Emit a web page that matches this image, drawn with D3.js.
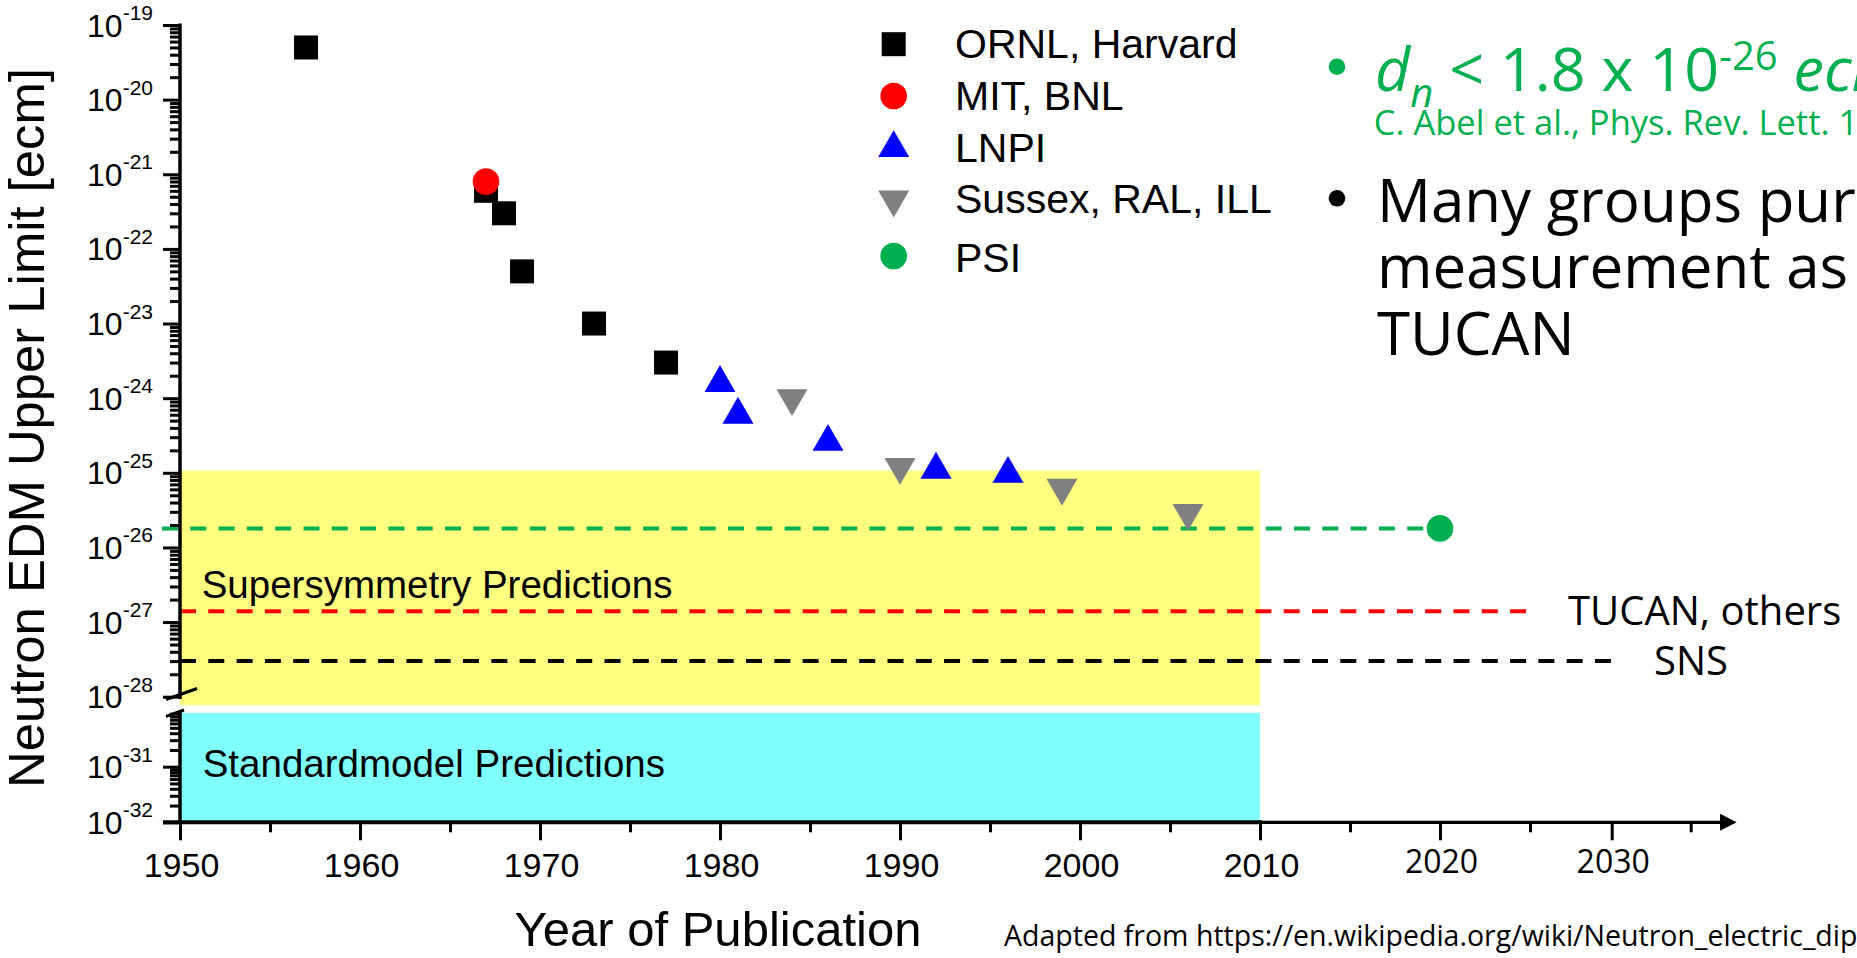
<!DOCTYPE html>
<html>
<head>
<meta charset="utf-8">
<script src="https://cdn.jsdelivr.net/npm/d3@7"></script>
<style>
  html, body { margin: 0; padding: 0; background: #fff; overflow: hidden; }
  svg { display: block; }
</style>
</head>
<body>
<svg id="chart" width="1857" height="958"></svg>
<script>
// ---- Neutron EDM upper limits by year of publication ----
const ornlYears  = [1957, 1967, 1968, 1969, 1973, 1977];
const ornlLimits = [5e-20, 6e-22, 3e-22, 5e-23, 1e-23, 3e-24];
const mitYears   = [1967];
const mitLimits  = [8e-22];
const lnpiYears  = [1980, 1981, 1986, 1992, 1996];
const lnpiLimits = [1.6e-24, 6e-25, 2.6e-25, 1.1e-25, 9.7e-26];
const illYears   = [1984, 1990, 1999, 2006];
const illLimits  = [1.0e-24, 1.2e-25, 6.3e-26, 2.9e-26];
const psiYears   = [2020];
const psiLimits  = [1.8e-26];

const seriesNames = ["ORNL, Harvard", "MIT, BNL", "LNPI", "Sussex, RAL, ILL", "PSI"];

// projected sensitivities, drawn as dashed lines
const projectionNames  = ["PSI", "TUCAN, others", "SNS"];
const projectionLimits = [1.8e-26, 1.4e-27, 3e-28];
const projectionYears  = [[1949, 2020], [1950, 2025], [1950, 2030]];

// theory prediction bands
const bandNames  = ["Supersymmetry Predictions", "Standardmodel Predictions"];
const bandLimits = [[7.7e-29, 1.07e-25], [1e-32, 9.3e-31]];
const bandYears  = [1950, 2010];

// axis ticks
const yUpperExponents = [-28, -27, -26, -25, -24, -23, -22, -21, -20, -19];
const yLowerExponents = [-32, -31];
const xMajorTicks = [1950, 1960, 1970, 1980, 1990, 2000, 2010, 2020, 2030];
const xMinorTicks = [1955, 1965, 1975, 1985, 1995, 2005, 2015, 2025, 2035];

// ---- styling ----
const ARIAL = "'Liberation Sans', Arial, sans-serif";
const SLIDE = "'Open Sans', 'Noto Sans', sans-serif";
const GREEN = "#00B050";
const colors = { ornl: "#000000", mit: "#FF0000", lnpi: "#0000FF", ill: "#808080", psi: GREEN };
const bandColors = ["#FFFF80", "#80FFFF"];
const projectionColors = [GREEN, "#FF0000", "#000000"];

const svg = d3.select("#chart");

// ---- scales: broken log axis (upper and lower segment) ----
const axisX = 180, axisY = 822.3;
const yUpper = d3.scaleLog().domain([1e-28, 1e-19]).range([696.7, 25]);
const yLower = d3.scaleLog().domain([1e-32, 1e-31]).range([axisY, 766.7]);
const y = v => (v >= 5e-29 ? yUpper(v) : yLower(v));
const x = d3.scaleLinear().domain([1950, 2025, 2030, 2035]).range([axisX, 1530, 1611.7, 1690.7]);

// ---- prediction bands ----
svg.append("g").selectAll("rect")
  .data(bandLimits)
  .join("rect")
  .attr("x", x(bandYears[0]))
  .attr("width", x(bandYears[1]) - x(bandYears[0]))
  .attr("y", d => y(d[1]))
  .attr("height", d => y(d[0]) - y(d[1]))
  .attr("fill", (d, i) => bandColors[i]);

const bandLabelPos = [[201.7, 598.3], [202.7, 776.7]];
svg.append("g").selectAll("text")
  .data(bandNames)
  .join("text")
  .attr("x", (d, i) => bandLabelPos[i][0])
  .attr("y", (d, i) => bandLabelPos[i][1])
  .attr("font-family", ARIAL)
  .attr("font-size", 38.5)
  .attr("fill", "#000")
  .text(d => d);

// ---- projected sensitivity lines ----
svg.append("g").selectAll("line")
  .data(projectionLimits)
  .join("line")
  .attr("x1", (d, i) => x(projectionYears[i][0]))
  .attr("x2", (d, i) => x(projectionYears[i][1]))
  .attr("y1", d => y(d))
  .attr("y2", d => y(d))
  .attr("stroke", (d, i) => projectionColors[i])
  .attr("stroke-width", 4)
  .attr("stroke-dasharray", "16,12.3");

const projLabelPos = [null, [1568, 625], [1654, 675]];
svg.append("g").selectAll("text")
  .data(projectionNames.slice(1))
  .join("text")
  .attr("x", (d, i) => projLabelPos[i + 1][0])
  .attr("y", (d, i) => projLabelPos[i + 1][1])
  .attr("font-family", SLIDE)
  .attr("font-size", 40)
  .attr("fill", "#000")
  .text(d => d);

// ---- axes ----
const tickColor = "#000";

// y axis: major and minor ticks on both segments
const upperMajors = yUpperExponents.map(e => Math.pow(10, e));
const lowerMajors = yLowerExponents.map(e => Math.pow(10, e));
const minorsFor = exps => exps.flatMap(e => d3.range(2, 10).map(k => k * Math.pow(10, e)));
const upperMinors = minorsFor(yUpperExponents.slice(0, -1));
const lowerMinors = minorsFor(yLowerExponents);

function styleAxis(g) {
  g.select(".domain").remove();
  g.selectAll("line").attr("stroke", tickColor).attr("stroke-width", 3);
}
svg.append("g").attr("transform", `translate(${axisX},0)`)
  .call(d3.axisLeft(yUpper).tickValues(upperMajors).tickSize(17).tickFormat(""))
  .call(styleAxis);
svg.append("g").attr("transform", `translate(${axisX},0)`)
  .call(d3.axisLeft(yUpper).tickValues(upperMinors).tickSize(10).tickFormat(""))
  .call(styleAxis);
svg.append("g").attr("transform", `translate(${axisX},0)`)
  .call(d3.axisLeft(yLower).tickValues(lowerMajors).tickSize(17).tickFormat(""))
  .call(styleAxis);
svg.append("g").attr("transform", `translate(${axisX},0)`)
  .call(d3.axisLeft(yLower).tickValues(lowerMinors).tickSize(10).tickFormat(""))
  .call(styleAxis);

// y tick labels as 10^n
const yLabels = [
  ...yUpperExponents.map(e => ({ e, pos: yUpper(Math.pow(10, e)) })),
  ...yLowerExponents.map(e => ({ e, pos: yLower(Math.pow(10, e)) }))
];
const yl = svg.append("g").selectAll("text")
  .data(yLabels)
  .join("text")
  .attr("x", 153)
  .attr("y", d => d.pos + 11.5)
  .attr("text-anchor", "end")
  .attr("font-family", ARIAL)
  .attr("fill", "#000");
yl.append("tspan").attr("font-size", 32).text("10");
yl.append("tspan").attr("font-size", 21).attr("dy", -16.5).text(d => String(d.e));

// y axis line with break
const axisLines = svg.append("g").attr("stroke", "#000").attr("fill", "none");
axisLines.append("line").attr("x1", axisX).attr("x2", axisX).attr("y1", yUpper(1e-19) - 1.5).attr("y2", 699).attr("stroke-width", 3.5);
axisLines.append("line").attr("x1", axisX).attr("x2", axisX).attr("y1", 710.5).attr("y2", axisY).attr("stroke-width", 3.5);
// break marks
axisLines.append("line").attr("x1", 166).attr("y1", 699.5).attr("x2", 197).attr("y2", 688.5).attr("stroke-width", 3);
axisLines.append("line").attr("x1", 166).attr("y1", 716.5).attr("x2", 184).attr("y2", 710).attr("stroke-width", 3);

// x axis
svg.append("g").attr("transform", `translate(0,${axisY})`)
  .call(d3.axisBottom(x).tickValues(xMajorTicks).tickSize(18).tickFormat(""))
  .call(styleAxis);
svg.append("g").attr("transform", `translate(0,${axisY})`)
  .call(d3.axisBottom(x).tickValues(xMinorTicks).tickSize(10).tickFormat(""))
  .call(styleAxis);
axisLines.append("line").attr("x1", 163).attr("x2", x(2010) + 2).attr("y1", axisY).attr("y2", axisY).attr("stroke-width", 4);
axisLines.append("line").attr("x1", x(2010) - 2).attr("x2", 1724).attr("y1", axisY).attr("y2", axisY).attr("stroke-width", 3.3);
svg.append("path")
  .attr("d", `M1736.7,${axisY} L1720,${axisY - 8.5} L1720,${axisY + 8.5} Z`)
  .attr("fill", "#000");

svg.append("g").selectAll("text")
  .data(xMajorTicks)
  .join("text")
  .attr("x", d => x(d) + 1.5)
  .attr("y", d => (d > 2010 ? 873 : 876.7))
  .attr("text-anchor", "middle")
  .attr("font-family", d => (d > 2010 ? SLIDE : ARIAL))
  .attr("font-size", d => (d > 2010 ? 32 : 34))
  .attr("fill", "#000")
  .text(d => d);

// axis titles
svg.append("text")
  .attr("transform", "translate(44,428) rotate(-90)")
  .attr("text-anchor", "middle")
  .attr("font-family", ARIAL)
  .attr("font-size", 50.8)
  .attr("fill", "#000")
  .text("Neutron EDM Upper Limit [ecm]");
svg.append("text")
  .attr("x", 718).attr("y", 946)
  .attr("text-anchor", "middle")
  .attr("font-family", ARIAL)
  .attr("font-size", 49)
  .attr("fill", "#000")
  .text("Year of Publication");

// ---- data points ----
const SQUARE = d3.symbol().type(d3.symbolSquare).size(24 * 24)();
const CIRCLE = d3.symbol().type(d3.symbolCircle).size(Math.PI * 13.3 * 13.3)();
const TRIANGLE = d3.symbol().type(d3.symbolTriangle).size(Math.sqrt(3) / 4 * 31 * 31)();

const series = [
  { years: ornlYears, limits: ornlLimits, shape: SQUARE, rot: 0, color: colors.ornl },
  { years: mitYears, limits: mitLimits, shape: CIRCLE, rot: 0, color: colors.mit },
  { years: lnpiYears, limits: lnpiLimits, shape: TRIANGLE, rot: 0, color: colors.lnpi },
  { years: illYears, limits: illLimits, shape: TRIANGLE, rot: 180, color: colors.ill },
  { years: psiYears, limits: psiLimits, shape: CIRCLE, rot: 0, color: colors.psi }
];

const pts = svg.append("g");
series.forEach(s => {
  pts.append("g").selectAll("path")
    .data(s.years.map((yr, i) => [yr, s.limits[i]]))
    .join("path")
    .attr("d", s.shape)
    .attr("transform", d => `translate(${x(d[0])},${y(d[1])}) rotate(${s.rot})`)
    .attr("fill", s.color);
});

// ---- legend ----
const legendSymbolX = 893.7, legendTextX = 955;
const legendRowY = [44.2, 96, 143.7, 204, 256];
const legendTextY = [58.3, 110, 161.7, 213, 271.7];
const triH = 31 * Math.sqrt(3) / 2;
const legend = svg.append("g");
series.forEach((s, i) => {
  const cy = legendRowY[i] + (s.shape === TRIANGLE ? (s.rot ? -triH / 6 : triH / 6) : 0);
  legend.append("path")
    .attr("d", s.shape)
    .attr("transform", `translate(${legendSymbolX},${cy}) rotate(${s.rot})`)
    .attr("fill", s.color);
  legend.append("text")
    .attr("x", legendTextX).attr("y", legendTextY[i])
    .attr("font-family", ARIAL)
    .attr("font-size", 41)
    .attr("fill", "#000")
    .text(seriesNames[i]);
});

// ---- slide notes on the right ----
const notes = svg.append("g").attr("font-family", SLIDE);
notes.append("circle").attr("cx", 1337).attr("cy", 66.7).attr("r", 8.3).attr("fill", GREEN);
notes.append("circle").attr("cx", 1337).attr("cy", 198.3).attr("r", 8.3).attr("fill", "#000");

const result = notes.append("text").attr("x", 1375).attr("y", 90.7).attr("font-size", 61).attr("fill", GREEN);
result.append("tspan").attr("font-style", "italic").text("d");
result.append("tspan").attr("font-style", "italic").attr("font-size", 40).attr("dy", 16).text("n");
result.append("tspan").attr("dy", -16).text(" < 1.8 x 10");
result.append("tspan").attr("font-size", 40).attr("dy", -20.7).text("-26");
result.append("tspan").attr("dy", 20.7).attr("font-style", "italic").text(" ecm");

notes.append("text").attr("x", 1373.7).attr("y", 135).attr("font-size", 34.5).attr("fill", GREEN)
  .text("C. Abel et al., Phys. Rev. Lett.  124, 081803 (2020)");

const bulletLines = ["Many groups pursue a new", "measurement as well, e.g.", "TUCAN"];
notes.append("g").selectAll("text")
  .data(bulletLines)
  .join("text")
  .attr("x", 1377)
  .attr("y", (d, i) => 221.7 + i * 66.65)
  .attr("font-size", 60)
  .attr("fill", "#000")
  .text(d => d);

notes.append("text").attr("x", 1004).attr("y", 946).attr("font-size", 28.5).attr("fill", "#000")
  .text("Adapted from https://en.wikipedia.org/wiki/Neutron_electric_dipole_moment");
</script>
</body>
</html>
